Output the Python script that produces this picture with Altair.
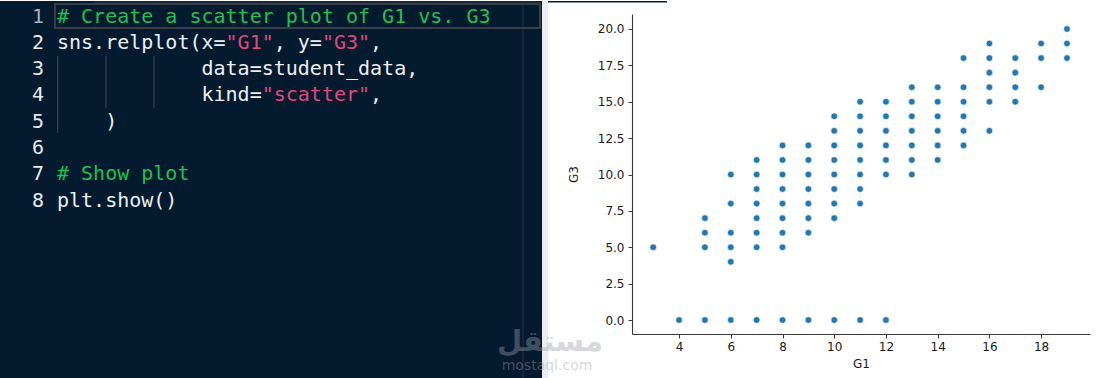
import altair as alt
import pandas as pd

# ---------------- scatter data ----------------
g1_values = [3,
             4,
             5, 5, 5, 5,
             6, 6, 6, 6, 6, 6,
             7, 7, 7, 7, 7, 7, 7, 7,
             8, 8, 8, 8, 8, 8, 8, 8, 8,
             9, 9, 9, 9, 9, 9, 9, 9,
             10, 10, 10, 10, 10, 10, 10, 10, 10,
             11, 11, 11, 11, 11, 11, 11, 11, 11,
             12, 12, 12, 12, 12, 12, 12,
             13, 13, 13, 13, 13, 13, 13,
             14, 14, 14, 14, 14, 14,
             15, 15, 15, 15, 15, 15,
             16, 16, 16, 16, 16, 16,
             17, 17, 17, 17,
             18, 18, 18,
             19, 19, 19]
g3_values = [5,
             0,
             0, 5, 6, 7,
             0, 4, 5, 6, 8, 10,
             0, 5, 6, 7, 8, 9, 10, 11,
             0, 5, 6, 7, 8, 9, 10, 11, 12,
             0, 6, 7, 8, 9, 10, 11, 12,
             0, 7, 8, 9, 10, 11, 12, 13, 14,
             0, 8, 9, 10, 11, 12, 13, 14, 15,
             0, 10, 11, 12, 13, 14, 15,
             10, 11, 12, 13, 14, 15, 16,
             11, 12, 13, 14, 15, 16,
             12, 13, 14, 15, 16, 18,
             13, 15, 16, 17, 18, 19,
             15, 16, 17, 18,
             16, 18, 19,
             18, 19, 20]
x_ticks = [4, 6, 8, 10, 12, 14, 16, 18]
y_ticks = [0, 2.5, 5, 7.5, 10, 12.5, 15, 17.5, 20]

# ---------------- code panel text ----------------
code_line = [1, 2, 2, 2, 2, 2, 3, 4, 4, 4, 5, 7, 8]
code_col = [0, 0, 14, 18, 22, 26, 12, 12, 17, 26, 4, 0, 0]
code_text = ['# Create a scatter plot of G1 vs. G3',
             'sns.relplot(x=', '"G1"', ', y=', '"G3"', ',',
             'data=student_data,',
             'kind=', '"scatter"', ',',
             ')',
             '# Show plot',
             'plt.show()']
code_kind = ['comment', 'plain', 'string', 'plain', 'string', 'plain',
             'plain', 'plain', 'string', 'plain', 'plain', 'comment', 'plain']
line_numbers = [1, 2, 3, 4, 5, 6, 7, 8]
line_kind = ['num_dim', 'num', 'num', 'num', 'num', 'num', 'num', 'num']

watermark_ar = ['مستقل']
watermark_en = ['mostaql.com']

# ---------------- layout constants (pixels, relative to plot origin) ----------------
OX, OY = 632, 13          # plot origin on the page
W, H = 458, 320           # plot size
CHAR_W, LINE_H = 12.04, 26.3

scatter_df = pd.DataFrame({'G1': g1_values, 'G3': g3_values})
code_df = pd.DataFrame({'line': code_line, 'col': code_col,
                        'text': code_text, 'kind': code_kind})
num_df = pd.DataFrame({'line': line_numbers, 'kind': line_kind})
num_df['text'] = num_df['line'].astype(str)
one = pd.DataFrame({'k': [0]})
wm_ar_df = pd.DataFrame({'t': watermark_ar})
wm_en_df = pd.DataFrame({'t': watermark_en})

kind_scale = alt.Scale(domain=['comment', 'plain', 'string', 'num', 'num_dim'],
                       range=['#1fc150', '#eef0f3', '#e2467d', '#e8eaed', '#aab2bc'])

def px(v):
    return alt.value(v - OX)

def py(v):
    return alt.value(v - OY)

bg_code = alt.Chart(one).mark_rect(color='#041a2e').encode(
    x=px(0), x2=px(542), y=py(0), y2=py(378))
strip = alt.Chart(one).mark_rect(color='#ececf5').encode(
    x=px(542), x2=px(548), y=py(0), y2=py(378))
right_fill = alt.Chart(one).mark_rect(color='#ffffff').encode(
    x=px(1095), x2=px(1106), y=py(0), y2=py(378))
top_dark = alt.Chart(one).mark_rect(color='#0b1a2b').encode(
    x=px(548), x2=px(667), y=py(0), y2=py(1.5))
tab_bar = alt.Chart(one).mark_rect(color='#1c2837').encode(
    x=px(95), x2=px(540), y=py(0), y2=py(3))
vline = alt.Chart(one).mark_rule(color='#223041', strokeWidth=1).encode(
    x=px(523), y=py(0), y2=py(378))
line_box = alt.Chart(one).mark_rect(filled=False, color='#3a3e44', strokeWidth=2).encode(
    x=px(55), x2=px(540), y=py(3), y2=py(27))

guides = []
for gx, gy2 in [(57.7, 132), (106, 107), (154, 107)]:
    guides.append(alt.Chart(one).mark_rule(color='#3a4048', strokeWidth=1.2).encode(
        x=px(gx), y=py(55), y2=py(gy2)))

code_layer = alt.Chart(code_df).transform_calculate(
    px=f'57 - {OX} + datum.col * {CHAR_W}',
    py=f'15.5 - {OY} + (datum.line - 1) * {LINE_H}'
).mark_text(font='DejaVu Sans Mono', fontSize=20, align='left', baseline='middle').encode(
    x=alt.X('px:Q', scale=None, axis=None),
    y=alt.Y('py:Q', scale=None, axis=None),
    text='text:N',
    color=alt.Color('kind:N', scale=kind_scale, legend=None))

num_layer = alt.Chart(num_df).transform_calculate(
    px=f'44 - {OX}',
    py=f'15.5 - {OY} + (datum.line - 1) * {LINE_H}'
).mark_text(font='DejaVu Sans Mono', fontSize=20, align='right', baseline='middle').encode(
    x=alt.X('px:Q', scale=None, axis=None),
    y=alt.Y('py:Q', scale=None, axis=None),
    text='text:N',
    color=alt.Color('kind:N', scale=kind_scale, legend=None))

points = alt.Chart(scatter_df).mark_point(
    filled=True, shape='circle', size=44, color='#1f77b4', opacity=1,
    stroke='#ffffff', strokeWidth=0.6).encode(
    x=alt.X('G1:Q', title='G1',
            scale=alt.Scale(domain=[2.18, 19.89], nice=False, zero=False),
            axis=alt.Axis(values=x_ticks, grid=False, labelPadding=3, titlePadding=6)),
    y=alt.Y('G3:Q', title='G3',
            scale=alt.Scale(domain=[-0.96, 21.03], nice=False, zero=False),
            axis=alt.Axis(values=y_ticks, format='.1f', grid=False,
                          labelPadding=4, titlePadding=17)))

wm_ar = alt.Chart(wm_ar_df).mark_text(
    font='DejaVu Sans', fontSize=29, fontWeight='bold',
    color='#9aa0a8', opacity=0.4, align='center', baseline='middle').encode(
    x=px(550), y=py(341), text='t:N')
wm_en = alt.Chart(wm_en_df).mark_text(
    font='DejaVu Sans', fontSize=14,
    color='#9aa0a8', opacity=0.4, align='center', baseline='middle').encode(
    x=px(547), y=py(365), text='t:N')

chart = alt.layer(
    bg_code, strip, right_fill, top_dark, tab_bar, vline, line_box, *guides,
    code_layer, num_layer, points, wm_ar, wm_en
).properties(
    width=W, height=H, padding=0, background='#ffffff'
).configure_view(
    stroke=None
).configure_axis(
    domainColor='#3a3a3a', tickColor='#3a3a3a', tickSize=4, domainWidth=1.1,
    labelFont='DejaVu Sans', labelFontSize=12, labelColor='#1a1a1a',
    titleFont='DejaVu Sans', titleFontSize=12, titleFontWeight='normal',
    titleColor='#1a1a1a'
)

chart.save("out.html", embed_options={"renderer": "svg", "actions": False})
